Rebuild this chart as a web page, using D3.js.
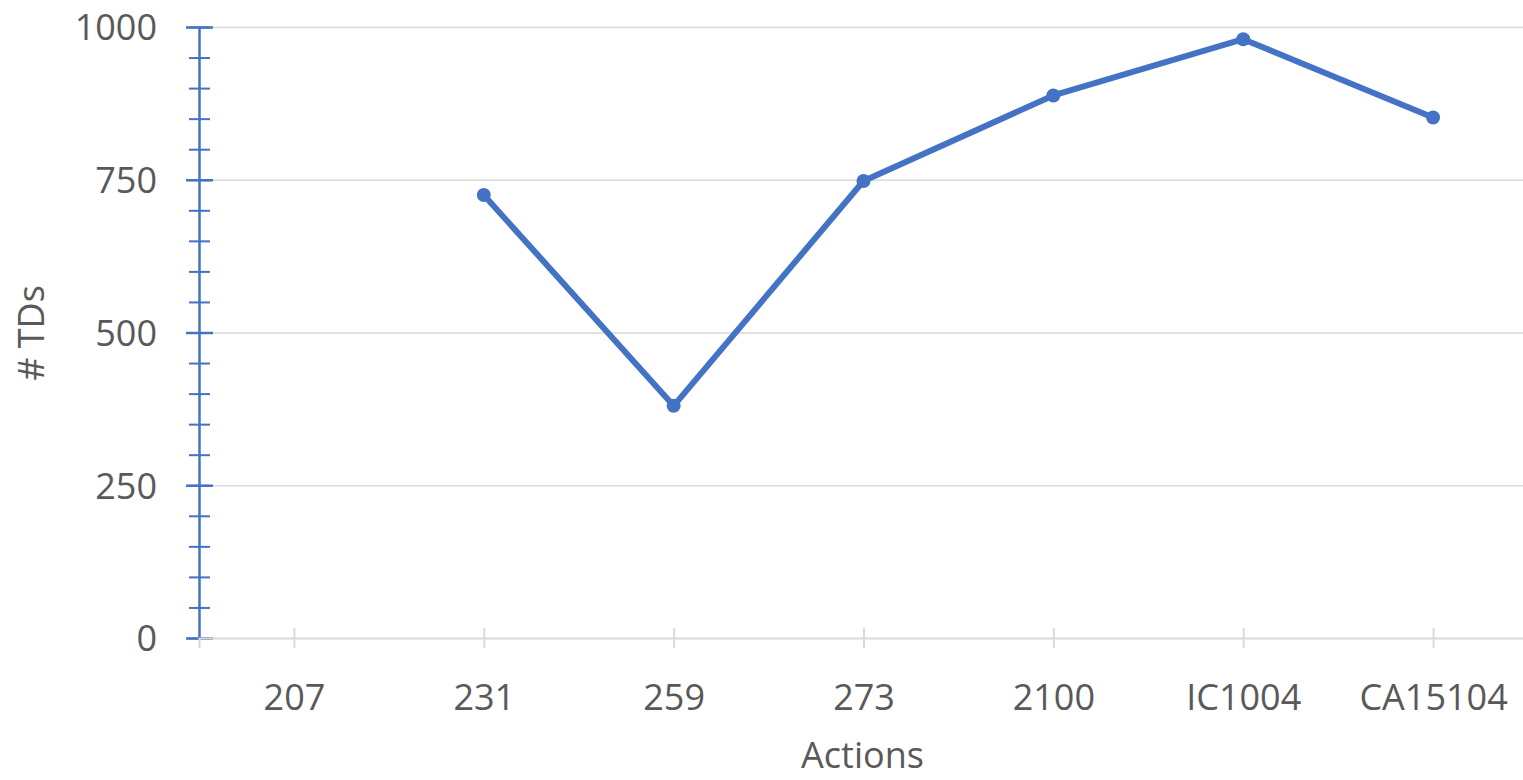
<!DOCTYPE html>
<html>
<head>
<meta charset="utf-8">
<script src="https://cdn.jsdelivr.net/npm/d3@7"></script>
<style>
  html, body { margin: 0; padding: 0; background: #fff; }
  svg { display: block; }
  text { font-family: "Open Sans", "Noto Sans", sans-serif; fill: #595959; }
</style>
</head>
<body>
<svg id="chart" width="1523" height="780"></svg>
<script>
// Actions on the x axis and the number of TDs for each (207 has no value)
const actions = ["207", "231", "259", "273", "2100", "IC1004", "CA15104"];
const tdCounts = [null, 725, 380, 748, 888, 980, 852];
const majorTicks = [0, 250, 500, 750, 1000];
const minorTicks = d3.range(0, 1001, 50);

const plotLeft = 199, plotRight = 1528, plotTop = 27, plotBottom = 638;
const blue = "#4472C4", grid = "#d9d9d9";
const fontSize = "36px";

const svg = d3.select("#chart");

const x = d3.scalePoint().domain(actions).range([plotLeft, plotRight]).padding(0.5);
const y = d3.scaleLinear().domain([0, 1000]).range([plotBottom, plotTop]);

// horizontal gridlines
const gridG = svg.append("g")
  .attr("transform", `translate(${plotLeft},0)`)
  .call(d3.axisLeft(y).tickValues(majorTicks.filter(v => v > 0)).tickSize(-(plotRight - plotLeft)).tickFormat(""));
gridG.select(".domain").remove();
gridG.selectAll("line").attr("stroke", grid).attr("stroke-width", 1.5);

// minor ticks across the y axis
const minorG = svg.append("g")
  .attr("transform", `translate(${plotLeft},0)`)
  .call(d3.axisLeft(y).tickValues(minorTicks).tickFormat(""));
minorG.select(".domain").remove();
minorG.selectAll("line").attr("x1", -10).attr("x2", 11).attr("stroke", blue).attr("stroke-width", 2);

// y axis with major ticks and labels
const yG = svg.append("g")
  .attr("transform", `translate(${plotLeft},0)`)
  .call(d3.axisLeft(y).tickValues(majorTicks).tickFormat(d3.format("d")).tickSizeOuter(0).tickPadding(0));
yG.select(".domain").attr("stroke", blue).attr("stroke-width", 2.5);
yG.selectAll(".tick line").attr("x1", 14).attr("x2", -13).attr("stroke", blue).attr("stroke-width", 2.5);
yG.selectAll(".tick text")
  .attr("x", -42).attr("dy", "0.36em")
  .style("font-size", fontSize).style("font-family", "'Open Sans', sans-serif").attr("fill", "#595959");

// x axis baseline with ticks at each action
const xG = svg.append("g")
  .attr("transform", `translate(0,${plotBottom})`)
  .call(d3.axisBottom(x).tickSizeOuter(0).tickSize(10));
xG.select(".domain").attr("stroke", grid).attr("stroke-width", 2);
xG.selectAll(".tick line").attr("y1", -10).attr("y2", 10).attr("stroke", grid).attr("stroke-width", 2);
xG.selectAll(".tick text")
  .attr("y", 59).attr("dy", "0.36em")
  .style("font-size", fontSize).style("font-family", "'Open Sans', sans-serif").attr("fill", "#595959");

// axis titles
svg.append("text")
  .attr("x", (plotLeft + plotRight) / 2 - 1).attr("y", 768)
  .attr("text-anchor", "middle")
  .style("font-size", fontSize)
  .text("Actions");

svg.append("text")
  .attr("transform", "translate(44,333) rotate(-90)")
  .attr("text-anchor", "middle")
  .style("font-size", fontSize)
  .text("# TDs");

// series line and markers
const pts = actions.map((a, i) => ({ a, v: tdCounts[i] }));
const line = d3.line()
  .defined(d => d.v != null)
  .x(d => x(d.a))
  .y(d => y(d.v));

svg.append("path")
  .datum(pts)
  .attr("fill", "none")
  .attr("stroke", blue)
  .attr("stroke-width", 6)
  .attr("stroke-linejoin", "round")
  .attr("d", line);

svg.append("g")
  .selectAll("circle")
  .data(pts.filter(d => d.v != null))
  .join("circle")
  .attr("cx", d => x(d.a))
  .attr("cy", d => y(d.v))
  .attr("r", 7)
  .attr("fill", blue);
</script>
</body>
</html>
